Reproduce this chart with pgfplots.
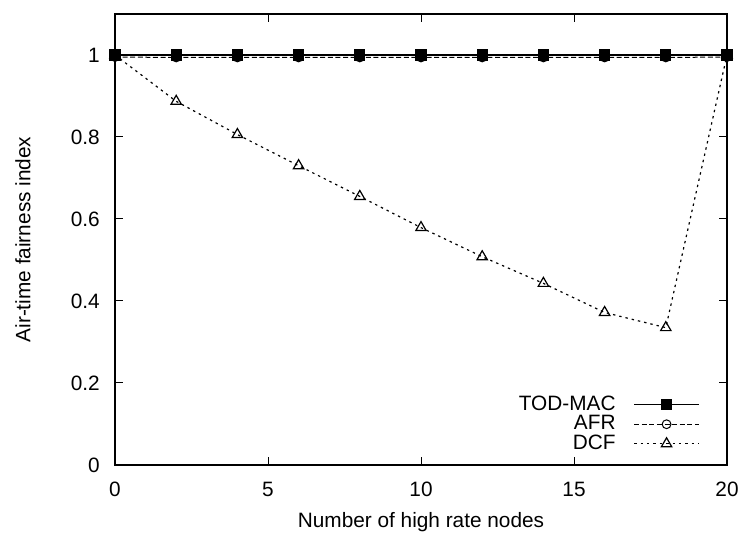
\documentclass[border=0pt]{standalone}
\usepackage{fontspec}
\setmainfont{Liberation Sans}
\usepackage{pgfplots}
\pgfplotsset{compat=1.18}
\begin{document}
\fontsize{10.4}{12}\selectfont
\begin{tikzpicture}
\begin{axis}[
  scale only axis,
  width=306pt, height=225.5pt,
  xmin=0, xmax=20, ymin=0, ymax=1.1,
  xtick={0,5,10,15,20},
  ytick={0,0.2,0.4,0.6,0.8,1},
  yticklabels={0,0.2,0.4,0.6,0.8,1},
  /pgf/number format/assume math mode=true,
  tick align=inside,
  major tick length=4pt,
  axis line style={line width=0.6pt},
  tick style={line width=0.5pt, black},
  xticklabel style={yshift=-5pt},
  yticklabel style={xshift=-4pt},
  every axis x label/.style={at={(axis description cs:0.5,0)}, yshift=-28.5pt, anchor=center},
  every axis y label/.style={at={(axis description cs:0,0.5)}, xshift=-46pt, rotate=90, anchor=center},
  xlabel={Number of high rate nodes},
  ylabel={Air-time fairness index},
  legend style={draw=none, fill=none, at={(axis description cs:1,0)}, anchor=south east, xshift=-13.5pt, yshift=4pt, row sep=-3pt, column sep=7pt, font=\fontsize{10.4}{12}\selectfont, inner sep=0pt},
  legend cell align=right,
  legend plot pos=right,
  legend image code/.code={\draw[mark repeat=2,mark phase=2] plot coordinates {(0cm,0cm) (0.57cm,0cm) (1.14cm,0cm)};},
]
\addplot[black, line width=0.6pt, mark=square*, mark size=2.5pt, mark options={solid, fill=black}]
  coordinates {(0,1) (2,1) (4,1) (6,1) (8,1) (10,1) (12,1) (14,1) (16,1) (18,1) (20,1)};
\addlegendentry{TOD-MAC}
\addplot[black, line width=0.5pt, dash pattern=on 2.5pt off 1.3pt, mark=o, mark size=2.2pt, mark options={solid, fill=white}]
  coordinates {(0,0.995) (2,0.994) (4,0.994) (6,0.994) (8,0.994) (10,0.994) (12,0.994) (14,0.994) (16,0.994) (18,0.994) (20,0.995)};
\addlegendentry{AFR}
\addplot[black, line width=0.6pt, dash pattern=on 1.2pt off 2pt, mark=triangle, mark size=3pt, mark options={solid, fill=white}]
  coordinates {(0,1) (2,0.887) (4,0.806) (6,0.730) (8,0.655) (10,0.579) (12,0.508) (14,0.443) (16,0.372) (18,0.335) (20,1)};
\addlegendentry{DCF}
\end{axis}
\pgfresetboundingbox
\path ([xshift=-57.5pt,yshift=-36.5pt]current axis.south west) rectangle ([xshift=10.5pt,yshift=7pt]current axis.north east);
\end{tikzpicture}
\end{document}
